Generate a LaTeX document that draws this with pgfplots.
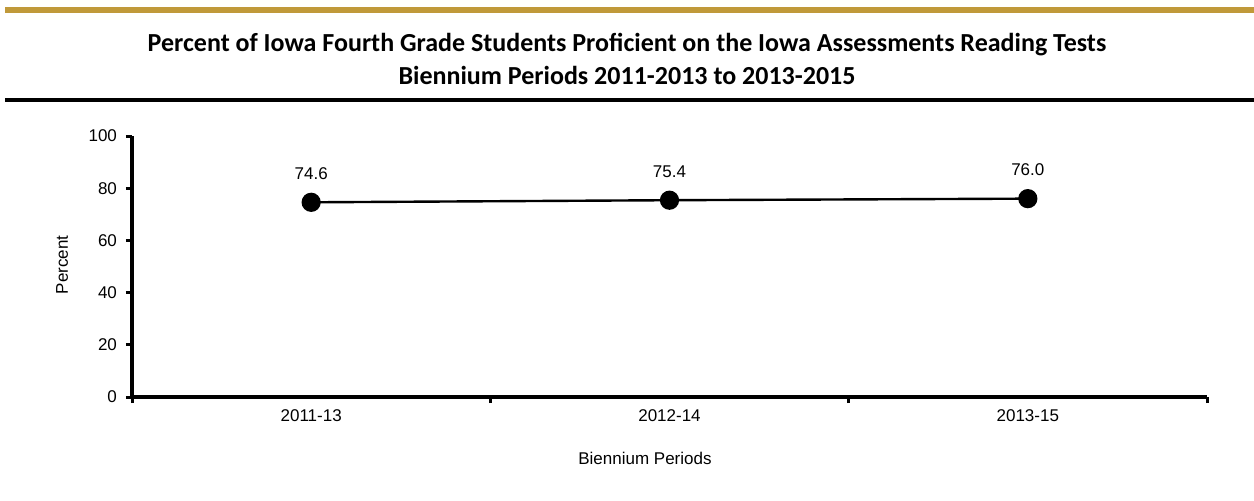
\documentclass[border=0pt]{standalone}
\usepackage{pgfplots}
\pgfplotsset{compat=1.18}
\usepackage{fontspec}
\setmainfont{Liberation Sans}
\newfontfamily\titlefont{Carlito}
\definecolor{gold}{HTML}{C0993A}
\begin{document}
\begin{tikzpicture}[x=0.5pt,y=0.5pt]
\path[use as bounding box,fill=white] (0,0) rectangle (1254,500);
\fill[gold] (5,493) rectangle (1254,487);
\fill[black] (5,402) rectangle (1254,398);
\node[font=\titlefont\bfseries\fontsize{13}{15}\selectfont] at (627,455) {Percent of Iowa Fourth Grade Students Proficient on the Iowa Assessments Reading Tests};
\node[font=\titlefont\bfseries\fontsize{13}{15}\selectfont] at (627,425) {Biennium Periods 2011-2013 to 2013-2015};
\node[font=\fontsize{8.5}{10}\selectfont] at (645,42) {Biennium Periods};
\node[font=\fontsize{8.5}{10}\selectfont,rotate=90] at (62,235) {Percent};
\begin{axis}[
  at={(66pt,51.5pt)}, anchor=south west,
  scale only axis, width=537.5pt, height=130.5pt,
  xmin=-0.5, xmax=2.5, ymin=0, ymax=100,
  axis x line*=bottom, axis y line*=left,
  axis line style={line width=2.2pt, -},
  xtick={0,1,2}, xticklabels={2011-13,2012-14,2013-15},
  minor xtick={-0.5,0.5,1.5,2.5},
  major x tick style={draw=none},
  ytick={0,20,40,60,80,100},
  tick align=outside,
  major tick length=3pt, minor tick length=3pt,
  tick style={line width=1.5pt, black},
  ticklabel style={font=\fontsize{8.5}{10}\selectfont},
  xticklabel style={yshift=0pt},
  yticklabel style={xshift=-1pt},
  /pgf/number format/assume math mode=true,
  clip=false,
  nodes near coords,
  nodes near coords style={font=\fontsize{8.5}{10}\selectfont, anchor=base, inner sep=0pt, yshift=11.5pt,
    /pgf/number format/fixed, /pgf/number format/fixed zerofill, /pgf/number format/precision=1},
]
\addplot[black, line width=1.2pt, mark=*, mark size=4.2pt] coordinates {(0,74.6) (1,75.4) (2,76.0)};
\end{axis}
\end{tikzpicture}
\end{document}
